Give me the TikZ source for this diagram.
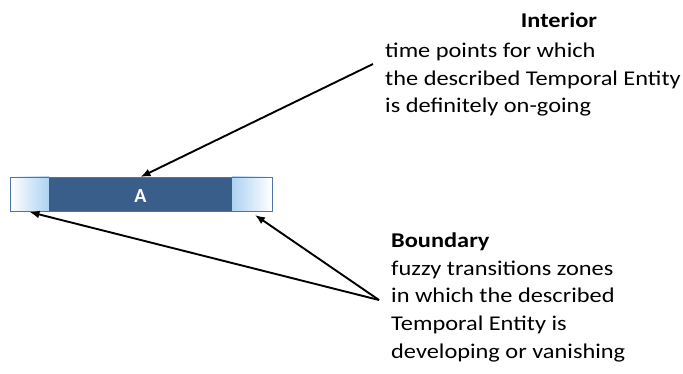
\documentclass[tikz,border=0pt]{standalone}
\usepackage{fontspec}
\setmainfont{Carlito}
\newfontfamily\widefont[FakeStretch=1.16]{Carlito}
\usetikzlibrary{arrows.meta}
\definecolor{darkblue}{HTML}{3A5E8A}
\definecolor{edgeblue}{HTML}{4D74AA}
\definecolor{lightblue}{HTML}{AED2F2}
\tikzset{
  zone/.style={inner sep=0pt, minimum height=34.5pt, outer sep=0pt},
  txt/.style={inner sep=0pt, font=\widefont\fontsize{21}{27.6}\selectfont, align=left},
  ttl/.style={inner sep=0pt, font=\widefont\fontsize{21}{27.6}\selectfont\bfseries},
  arr/.style={line width=1.9pt, -{Latex[length=10pt,width=8pt]}}
}
\begin{document}
\begin{tikzpicture}[x=1pt,y=-1pt]
\useasboundingbox (0,0) rectangle (683,374);
% bar
\node[zone, minimum width=39pt, left color=white, right color=lightblue, anchor=north west] (lz) at (10,177) {};
\node[zone, minimum width=183pt, fill=darkblue, anchor=north west] (A) at (49,177) {};
\node[zone, minimum width=40pt, left color=lightblue, right color=white, anchor=north west] (rz) at (232,177) {};
\draw[edgeblue, line width=0.8pt] (lz.north west) rectangle (rz.south east);
\node[inner sep=0pt, anchor=base, text=white, font=\fontsize{20}{24}\selectfont\bfseries] (Alabel) at ([yshift=-8.3pt]A.center) {A};
% texts
\node[ttl, anchor=base] (it) at (559,28) {Interior};
\node[txt, anchor=base west] (ib) at (385,112.7) {time points for which\\the described Temporal Entity\\is definitely on-going};
\node[ttl, anchor=base west] (bt) at (391,247.7) {Boundary};
\node[txt, anchor=base west] (bb) at (391,358) {fuzzy transitions zones\\in which the described\\Temporal Entity is\\developing or vanishing};
% arrows
\coordinate (is) at (373,64);
\coordinate (bs) at (379,300);
\draw[arr] (is) -- (A.north);
\draw[arr] (bs) -- ([yshift=-0.5pt]lz.south);
\draw[arr] (bs) -- ([xshift=3pt,yshift=-3.5pt]rz.south);
\end{tikzpicture}
\end{document}
